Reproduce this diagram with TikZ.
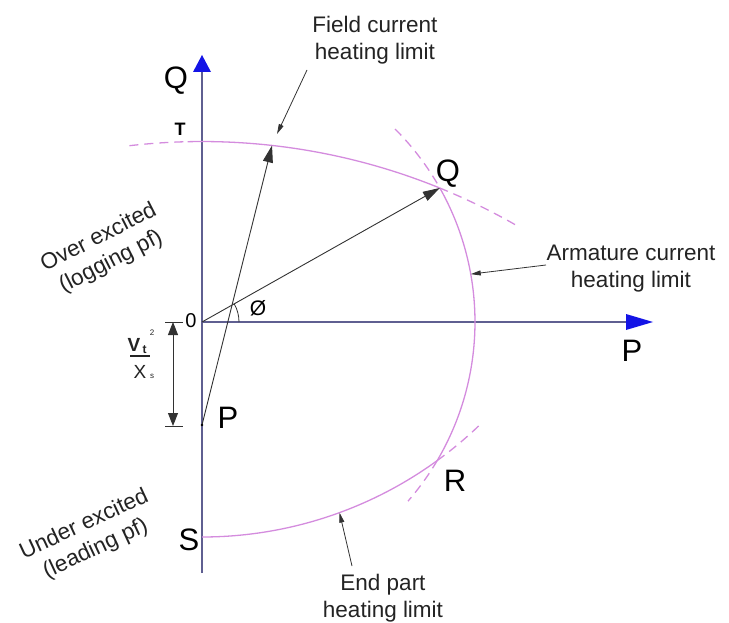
\documentclass[tikz,border=0pt]{standalone}
\usepackage{fontspec}
\setmainfont{Liberation Sans}
\usetikzlibrary{arrows.meta}
\definecolor{axiscol}{RGB}{95,95,145}
\definecolor{arccol}{RGB}{212,140,222}
\definecolor{bluehead}{RGB}{20,20,230}
\definecolor{arrcol}{RGB}{50,50,50}
\definecolor{txtcol}{RGB}{35,35,35}
\tikzset{
  axisline/.style={draw=axiscol,line width=1.4pt},
  bluetip/.style={fill=bluehead},
  limitarc/.style={draw=arccol,line width=1.3pt},
  limitdash/.style={draw=arccol,line width=1.3pt,dash pattern=on 9pt off 6pt},
  bigarrow/.style={draw=arrcol,line width=0.9pt,-{Triangle[length=17pt,width=10pt]}},
  lblarrow/.style={draw=arrcol,line width=0.8pt,-{Triangle[length=10pt,width=5pt]}},
  dimarrow/.style={draw=arrcol,line width=0.9pt,{Triangle[length=13pt,width=10pt]}-{Triangle[length=13pt,width=10pt]}},
  lbl/.style={text=txtcol,align=center,inner sep=0pt,font=\fontsize{22.5}{27}\selectfont},
  bigletter/.style={text=black,inner sep=0pt,font=\fontsize{31}{31}\selectfont},
}
\begin{document}
\begin{tikzpicture}[x=1pt,y=-1pt]
\useasboundingbox (0,0) rectangle (729,623);
% key points
\coordinate (O) at (202,322);
\coordinate (P) at (202,425);
\coordinate (Fc) at (202,772.8);
\coordinate (Ec) at (202,136.8);
\path (O) ++(-29.4:273) coordinate (Qp);
\path (O) ++(30.5:273) coordinate (Rp);
\path (Fc) ++(-83.63:631.3) coordinate (F);
\coordinate (ybot) at (202,573);
\coordinate (ytop) at (202,72);
\coordinate (xend) at (626,322);
% axes
\draw[axisline] (ybot) -- (ytop);
\fill[bluetip] (202,55) -- (193,72) -- (211,72) -- cycle;
\draw[axisline] (O) -- (xend);
\fill[bluetip] (653,322) -- (626,314) -- (626,330) -- cycle;
% armature current limit
\draw[limitarc] (O) ++(-29.4:273) arc[start angle=-29.4,end angle=30.5,radius=273];
\draw[limitdash] (O) ++(-45:273) arc[start angle=-45,end angle=-29.4,radius=273];
\draw[limitdash] (O) ++(30.5:273) arc[start angle=30.5,end angle=41,radius=273];
% field current limit
\draw[limitarc] (Fc) ++(-91.3:631.3) arc[start angle=-91.3,end angle=-67.9,radius=631.3];
\draw[limitdash] (Fc) ++(-96.6:631.3) arc[start angle=-96.6,end angle=-91.3,radius=631.3];
\draw[limitdash] (Fc) ++(-67.9:631.3) arc[start angle=-67.9,end angle=-60.1,radius=631.3];
% end part limit
\draw[limitarc] (Ec) ++(90:400.2) arc[start angle=90,end angle=54,radius=400.2];
\draw[limitdash] (Ec) ++(54:400.2) arc[start angle=54,end angle=45.5,radius=400.2];
% vectors
\draw[bigarrow] (O) -- (Qp);
\draw[bigarrow] (P) -- (F);
\fill[black] (P) circle (1.3);
% angle
\draw[arrcol,line width=0.8pt] (O) ++(0:37) arc[start angle=0,end angle=-29.4,radius=37];
\node[text=black,inner sep=0pt,font=\fontsize{21}{21}\selectfont] (phi) at (258,308) {Ø};
% dimension Vt^2/Xs
\coordinate (dt1) at (165,322); \coordinate (dt2) at (183,322);
\coordinate (db1) at (165,426); \coordinate (db2) at (183,426);
\coordinate (dtop) at (173,322); \coordinate (dbot) at (173,426);
\draw[arrcol,line width=0.9pt] (dt1) -- (dt2);
\draw[arrcol,line width=0.9pt] (db1) -- (db2);
\draw[dimarrow] (dtop) -- (dbot);
\node[text=txtcol,inner sep=0pt,font=\bfseries\fontsize{19}{19}\selectfont] (vV) at (134,345) {V};
\node[text=txtcol,inner sep=0pt,font=\bfseries\fontsize{12}{12}\selectfont] (vt) at (144.5,350) {t};
\node[text=txtcol,inner sep=0pt,font=\fontsize{8}{8}\selectfont] (v2) at (152,333) {2};
\coordinate (ul1) at (130,356); \coordinate (ul2) at (150,356);
\draw[txtcol,line width=1.2pt] (ul1) -- (ul2);
\node[text=txtcol,inner sep=0pt,font=\fontsize{19}{19}\selectfont] (xX) at (140,372) {X};
\node[text=txtcol,inner sep=0pt,font=\fontsize{8}{8}\selectfont] (xs) at (152,376) {s};
% letters
\node[bigletter] (Qaxis) at (176,81) {Q};
\node[bigletter] (Qlbl) at (448,174) {Q};
\node[bigletter] (Paxis) at (632,351) {P};
\node[bigletter] (Plbl) at (228,418) {P};
\node[bigletter] (Rlbl) at (455,481) {R};
\node[bigletter] (Slbl) at (189,540) {S};
\node[text=black,inner sep=0pt,font=\bfseries\fontsize{18}{18}\selectfont] (Tlbl) at (180,129) {T};
\node[text=black,inner sep=0pt,font=\fontsize{20}{20}\selectfont] (zero) at (191,321) {0};
% labels
\node[lbl] (fch) at (375,40) {Field current\\heating limit};
\coordinate (fcs) at (307,70);
\coordinate (fct) at (277,134);
\draw[lblarrow] (fcs) -- (fct);
\node[lbl] (ach) at (631,269) {Armature current\\heating limit};
\coordinate (acs) at (546,265);
\path (O) ++(-10.1:273) coordinate (act);
\draw[lblarrow] (acs) -- (act);
\node[lbl] (eph) at (383,598) {End part\\heating limit};
\coordinate (eps) at (352,566);
\path (Ec) ++(69.9:400.2) coordinate (ept);
\draw[lblarrow] (eps) -- (ept);
\node[lbl,rotate=27] (over) at (105,250) {Over excited\\(logging pf)};
\node[lbl,rotate=25] (under) at (90,537) {Under excited\\(leading pf)};
\end{tikzpicture}
\end{document}
